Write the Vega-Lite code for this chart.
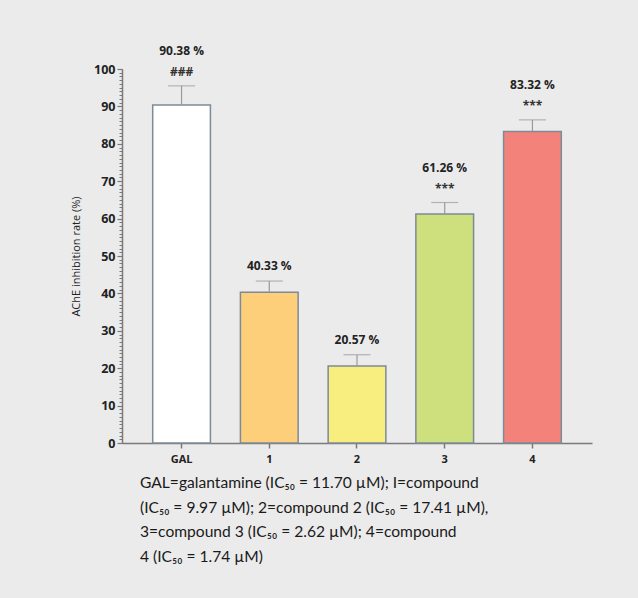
{
  "$schema": "https://vega.github.io/schema/vega-lite/v6.json",
  "autosize": "none",
  "width": 470,
  "height": 374,
  "padding": {"left": 122, "top": 69, "right": 46, "bottom": 155},
  "background": "#ebebeb",
  "config": {"view": {"stroke": null}, "font": "Open Sans"},
  "title": {
    "text": [
      "GAL=galantamine (IC₅₀ = 11.70 µM); I=compound",
      "(IC₅₀ = 9.97 µM); 2=compound 2 (IC₅₀ = 17.41 µM),",
      "3=compound 3 (IC₅₀ = 2.62 µM); 4=compound",
      "4 (IC₅₀ = 1.74 µM)"
    ],
    "orient": "bottom",
    "anchor": "start",
    "frame": "group",
    "dx": 18,
    "offset": 12,
    "fontSize": 15.6,
    "fontWeight": "normal",
    "font": "Lato",
    "color": "#1a1a1a",
    "lineHeight": 24.5
  },
  "data": {
    "values": [
      {"group": "GAL", "value": 90.38, "err": 95.5, "label": "90.38 %", "sig": "###"},
      {"group": "1", "value": 40.33, "err": 43.3, "label": "40.33 %", "sig": ""},
      {"group": "2", "value": 20.57, "err": 23.6, "label": "20.57 %", "sig": ""},
      {"group": "3", "value": 61.26, "err": 64.3, "label": "61.26 %", "sig": "***"},
      {"group": "4", "value": 83.32, "err": 86.4, "label": "83.32 %", "sig": "***"}
    ]
  },
  "encoding": {
    "x": {
      "field": "group",
      "type": "nominal",
      "sort": null,
      "scale": {"paddingInner": 0.342, "paddingOuter": 0.35},
      "axis": {
        "title": null,
        "labelAngle": 0,
        "labelFontSize": 11,
        "labelFontWeight": "bold",
        "labelColor": "#222222",
        "labelPadding": 5,
        "tickSize": 5,
        "tickColor": "#7a7a7a",
        "domainColor": "#7a7a7a",
        "domainWidth": 1.5,
        "tickWidth": 1.5
      }
    }
  },
  "resolve": {"axis": {"y": "independent"}},
  "layer": [
    {
      "mark": {"type": "bar", "stroke": "#7d8a98", "strokeWidth": 1.5},
      "encoding": {
        "y": {
          "field": "value",
          "type": "quantitative",
          "scale": {"domain": [0, 100], "nice": false},
          "axis": {
            "orient": "left",
            "title": "AChE inhibition rate (%)",
            "titleFontSize": 11,
            "titleFontWeight": "normal",
            "titleColor": "#222222",
            "titlePadding": 12,
            "values": [0, 10, 20, 30, 40, 50, 60, 70, 80, 90, 100],
            "labelOverlap": false,
            "labelFontSize": 12.5,
            "labelFontWeight": "bold",
            "labelColor": "#222222",
            "labelPadding": 2,
            "tickSize": 5,
            "tickColor": "#7a7a7a",
            "tickWidth": 1.2,
            "domainColor": "#7a7a7a",
            "domainWidth": 1.5,
            "grid": false
          }
        },
        "color": {
          "field": "group",
          "type": "nominal",
          "scale": {"domain": ["GAL", "1", "2", "3", "4"], "range": ["#ffffff", "#fdcf7a", "#f8ee80", "#cde07d", "#f3837a"]},
          "legend": null
        }
      }
    },
    {
      "mark": {"type": "rule", "color": "#9a9a9a", "strokeWidth": 1.2},
      "encoding": {
        "y": {
          "field": "value",
          "type": "quantitative",
          "axis": {
            "orient": "left",
            "title": null,
            "labels": false,
            "domain": false,
            "grid": false,
            "values": [0,1,2,3,4,5,6,7,8,9,10,11,12,13,14,15,16,17,18,19,20,21,22,23,24,25,26,27,28,29,30,31,32,33,34,35,36,37,38,39,40,41,42,43,44,45,46,47,48,49,50,51,52,53,54,55,56,57,58,59,60,61,62,63,64,65,66,67,68,69,70,71,72,73,74,75,76,77,78,79,80,81,82,83,84,85,86,87,88,89,90,91,92,93,94,95,96,97,98,99,100],
            "tickSize": 3,
            "tickColor": "#7a7a7a",
            "tickWidth": 1
          }
        },
        "y2": {"field": "err"}
      }
    },
    {
      "mark": {"type": "tick", "color": "#9a9a9a", "size": 27, "thickness": 1.2, "orient": "horizontal"},
      "encoding": {
        "y": {"field": "err", "type": "quantitative", "axis": null}
      }
    },
    {
      "transform": [{"filter": "datum.sig !== ''"}],
      "mark": {"type": "text", "dy": -14, "fontSize": 12, "fontWeight": "bold", "color": "#333333", "baseline": "middle"},
      "encoding": {
        "y": {"field": "err", "type": "quantitative", "axis": null},
        "text": {"field": "sig"}
      }
    },
    {
      "transform": [{"filter": "datum.sig !== ''"}],
      "mark": {"type": "text", "dy": -35, "fontSize": 12, "fontWeight": "bold", "color": "#222222", "baseline": "middle"},
      "encoding": {
        "y": {"field": "err", "type": "quantitative", "axis": null},
        "text": {"field": "label"}
      }
    },
    {
      "transform": [{"filter": "datum.sig === ''"}],
      "mark": {"type": "text", "dy": -15, "fontSize": 12, "fontWeight": "bold", "color": "#222222", "baseline": "middle"},
      "encoding": {
        "y": {"field": "err", "type": "quantitative", "axis": null},
        "text": {"field": "label"}
      }
    }
  ]
}
